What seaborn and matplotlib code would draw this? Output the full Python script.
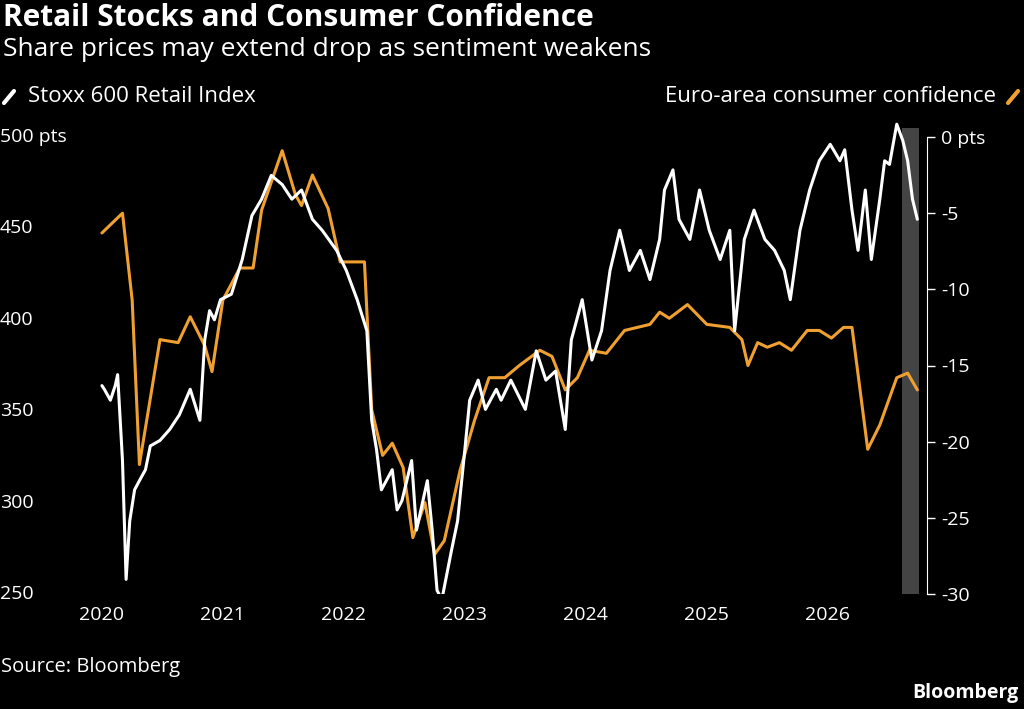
import matplotlib
matplotlib.use("Agg")
import matplotlib.pyplot as plt
import seaborn as sns
import pandas as pd
from matplotlib.lines import Line2D

sns.set_style("dark")
plt.rcParams['font.family'] = ['Open Sans', 'DejaVu Sans']

retail_x = [2020.0,2020.02,2020.07,2020.11,2020.13,2020.17,2020.2,2020.23,2020.27,2020.31,2020.36,2020.4,2020.48,2020.56,2020.64,2020.73,2020.81,2020.85,2020.89,2020.93,2020.98,2021.07,2021.16,2021.24,2021.32,2021.4,2021.49,2021.57,2021.65,2021.74,2021.82,2021.94,2022.02,2022.11,2022.19,2022.23,2022.27,2022.31,2022.4,2022.44,2022.48,2022.56,2022.6,2022.69,2022.73,2022.77,2022.81,2022.89,2022.94,2023.0,2023.04,2023.11,2023.17,2023.26,2023.3,2023.38,2023.5,2023.59,2023.67,2023.75,2023.83,2023.88,2023.97,2024.05,2024.13,2024.2,2024.28,2024.36,2024.45,2024.53,2024.61,2024.65,2024.72,2024.77,2024.86,2024.94,2025.02,2025.11,2025.19,2025.23,2025.31,2025.39,2025.48,2025.56,2025.64,2025.69,2025.77,2025.85,2025.93,2026.02,2026.1,2026.14,2026.2,2026.25,2026.31,2026.36,2026.43,2026.47,2026.51,2026.57,2026.62,2026.66,2026.7,2026.74]
retail_y = [364,362,356,364,370,323,258,290,307,312,318,331,334,340,348,362,345,389,405,400,411,414,433,457,466,479,474,466,471,455,449,438,427,411,394,345,329,307,318,296,301,323,285,312,285,252,247,274,290,329,356,367,351,362,356,367,351,383,367,372,340,389,411,378,394,427,449,427,438,422,444,471,482,455,444,471,449,433,449,394,444,460,444,438,427,411,449,471,487,496,487,493,460,438,471,433,466,487,485,507,498,487,466,455]

conf_x = [2020.0,2020.17,2020.25,2020.31,2020.48,2020.63,2020.73,2020.85,2020.91,2021.0,2021.14,2021.25,2021.32,2021.49,2021.6,2021.65,2021.74,2021.87,2021.97,2022.17,2022.23,2022.32,2022.4,2022.49,2022.57,2022.67,2022.75,2022.83,2022.96,2023.08,2023.2,2023.33,2023.45,2023.62,2023.72,2023.83,2023.93,2024.03,2024.17,2024.32,2024.53,2024.61,2024.69,2024.84,2025.0,2025.19,2025.29,2025.34,2025.42,2025.5,2025.6,2025.7,2025.83,2025.93,2026.03,2026.13,2026.2,2026.33,2026.43,2026.57,2026.66,2026.74]
conf_y = [-6.3,-5.0,-10.7,-21.5,-13.3,-13.5,-11.8,-13.7,-15.4,-10.7,-8.6,-8.6,-4.8,-0.9,-3.8,-4.5,-2.5,-4.7,-8.2,-8.2,-17.9,-20.9,-20.1,-21.7,-26.3,-24.0,-27.4,-26.5,-21.9,-18.6,-15.8,-15.8,-15.0,-14.0,-14.4,-16.6,-15.8,-14.0,-14.2,-12.7,-12.3,-11.5,-11.9,-11.0,-12.3,-12.5,-13.3,-15.0,-13.5,-13.8,-13.5,-14.0,-12.7,-12.7,-13.2,-12.5,-12.5,-20.5,-18.9,-15.8,-15.5,-16.6]

left_ticks = [250, 300, 350, 400, 450, 500]
left_labels = ["250", "300", "350", "400", "450", "500 pts"]
right_ticks = [-30, -25, -20, -15, -10, -5, 0]
right_labels = ["-30", "-25", "-20", "-15", "-10", "-5", "0 pts"]
year_ticks = [2020, 2021, 2022, 2023, 2024, 2025, 2026]

W, H = 1024, 709
fig = plt.figure(figsize=(W/100, H/100), dpi=100, facecolor="black")
L, R, B, T = 88, 927, 594, 119
ax = fig.add_axes([L/W, 1-B/H, (R-L)/W, (B-T)/H])
ax.set_facecolor("black")
ylo, yhi = 250, 500 + (137-119)*250/457
ax.set_xlim(2019.885, 2026.82)
ax.set_ylim(ylo, yhi)
ax2 = ax.twinx()
ax2.set_ylim((ylo-500)*0.12, (yhi-500)*0.12)

ax2.axvspan(2026.615, 2026.755, ymax=(594-128)/(594-119), color="#444444", zorder=0, lw=0)
sns.lineplot(x=retail_x, y=retail_y, ax=ax, color="white", lw=2.2, zorder=3)
sns.lineplot(x=conf_x, y=conf_y, ax=ax2, color="#f0a030", lw=2.2, zorder=2)
ax.set_zorder(ax2.get_zorder()+1); ax.patch.set_visible(False)
ax2.patch.set_visible(True); ax2.patch.set_facecolor("black")

for a in (ax, ax2):
    for s in a.spines.values():
        s.set_visible(False)
    a.grid(False)
ax2.spines["right"].set_visible(True); ax2.spines["right"].set_color("white")
ax2.spines["right"].set_bounds(-30, 0)

ax.set_xticks(year_ticks)
ax.set_xticklabels([str(y) for y in year_ticks])
ax.set_xticks([y + q/4 for y in range(2020, 2027) for q in (1, 2, 3)], minor=True)
ax.tick_params(axis="x", which="major", colors="white", labelsize=14, length=6, width=1, pad=3)
ax.tick_params(axis="x", which="minor", colors="white", length=3, width=1)
ax.set_yticks([])
for v, lab in zip(left_ticks, left_labels):
    ax.text(-88/(R-L), v, lab, transform=ax.get_yaxis_transform(), color="white", fontsize=14, ha="left", va="center")
ax2.set_yticks(right_ticks)
ax2.set_yticklabels(right_labels)
ax2.tick_params(axis="y", colors="white", labelsize=14, length=6, width=1, pad=4)
ax.set_xlabel(""); ax.set_ylabel(""); ax2.set_ylabel("")

fig.text(3/W, 1-18/H, "Retail Stocks and Consumer Confidence", color="white", fontsize=21.5, fontweight="bold", va="center")
fig.text(3/W, 1-49/H, "Share prices may extend drop as sentiment weakens", color="white", fontsize=19, va="center")
fig.add_artist(Line2D([4/W, 14/W], [1-103/H, 1-91/H], color="white", lw=3))
fig.text(28/W, 1-97/H, "Stoxx 600 Retail Index", color="white", fontsize=16, va="center")
fig.text(996/W, 1-97/H, "Euro-area consumer confidence", color="white", fontsize=16, va="center", ha="right")
fig.add_artist(Line2D([1008/W, 1018/W], [1-103/H, 1-91/H], color="#f0a030", lw=3))
fig.text(1/W, 1-667/H, "Source: Bloomberg", color="white", fontsize=14.5, va="center")
fig.text(1018/W, 1-693/H, "Bloomberg", color="white", fontsize=14, fontweight="bold", va="center", ha="right")

fig.savefig("out.png", dpi=100, facecolor="black")
